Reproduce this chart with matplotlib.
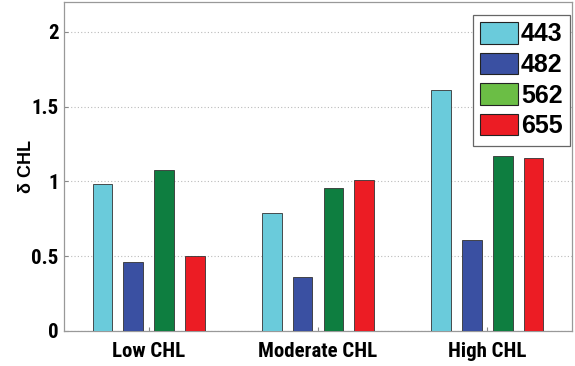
import matplotlib
matplotlib.use("Agg")
import matplotlib.pyplot as plt
import numpy as np
from matplotlib.patches import Patch

categories = ["Low CHL", "Moderate CHL", "High CHL"]
series_names = ["443", "482", "562", "655"]
values = {
    "443": [0.98, 0.79, 1.61],
    "482": [0.46, 0.36, 0.61],
    "562": [1.077, 0.956, 1.17],
    "655": [0.50, 1.01, 1.16],
}
bar_colors = ["#6ACBDB", "#3A50A2", "#0E7E40", "#EC1C24"]
legend_colors = ["#6ACBDB", "#3A50A2", "#6BBE45", "#EC1C24"]
yticks = [0, 0.5, 1, 1.5, 2]
yticklabels = ["0", "0.5", "1", "1.5", "2"]

narrow = ["Roboto Condensed", "Liberation Sans Narrow", "Arial Narrow",
          "Fira Sans Condensed", "DejaVu Sans"]

fig = plt.figure(figsize=(5.75, 3.66), dpi=100)
ax = fig.add_axes([64/575, 1 - 331/366, (572-64)/575, (331-2)/366])

x = np.arange(1, len(categories) + 1)
width = 0.117
offsets = np.array([-1.5, -0.5, 0.5, 1.5]) * 0.182
for i, name in enumerate(series_names):
    ax.bar(x + offsets[i], values[name], width=width, color=bar_colors[i],
           edgecolor="#333333", linewidth=0.6, zorder=3)

ax.set_xlim(0.5, 3.5)
ax.set_ylim(0, 2.2)
ax.set_xticks(x)
ax.set_xticklabels(categories, fontsize=15, fontweight="bold", family=narrow)
ax.set_yticks(yticks)
ax.set_yticklabels(yticklabels, fontsize=15, fontweight="bold", family=narrow)
ax.tick_params(axis="both", direction="in", length=3, color="#888888")
ax.tick_params(axis="x", pad=8)
ax.tick_params(axis="y", pad=4)
ax.yaxis.grid(True, linestyle=(0, (1, 2)), color="#BBBBBB", linewidth=0.8, zorder=0)
for s in ax.spines.values():
    s.set_color("#999999")
    s.set_linewidth(0.9)
ax.set_ylabel("δ CHL", fontsize=13, fontweight="bold", labelpad=-3,
              family=["Liberation Sans", "DejaVu Sans"])

handles = [Patch(facecolor=c, edgecolor="#222222", linewidth=0.8) for c in legend_colors]
leg = ax.legend(handles, series_names, loc="upper right", bbox_to_anchor=(0.996, 0.962),
                prop={"family": ["Liberation Sans", "DejaVu Sans"], "weight": "bold", "size": 18},
                handlelength=1.5, handleheight=0.95, handletextpad=0.12,
                labelspacing=0.25, borderpad=0.3, borderaxespad=0.0,
                fancybox=False, framealpha=1)
leg.get_frame().set_edgecolor("#666666")
leg.get_frame().set_linewidth(0.9)

fig.savefig("out.png", dpi=100)
